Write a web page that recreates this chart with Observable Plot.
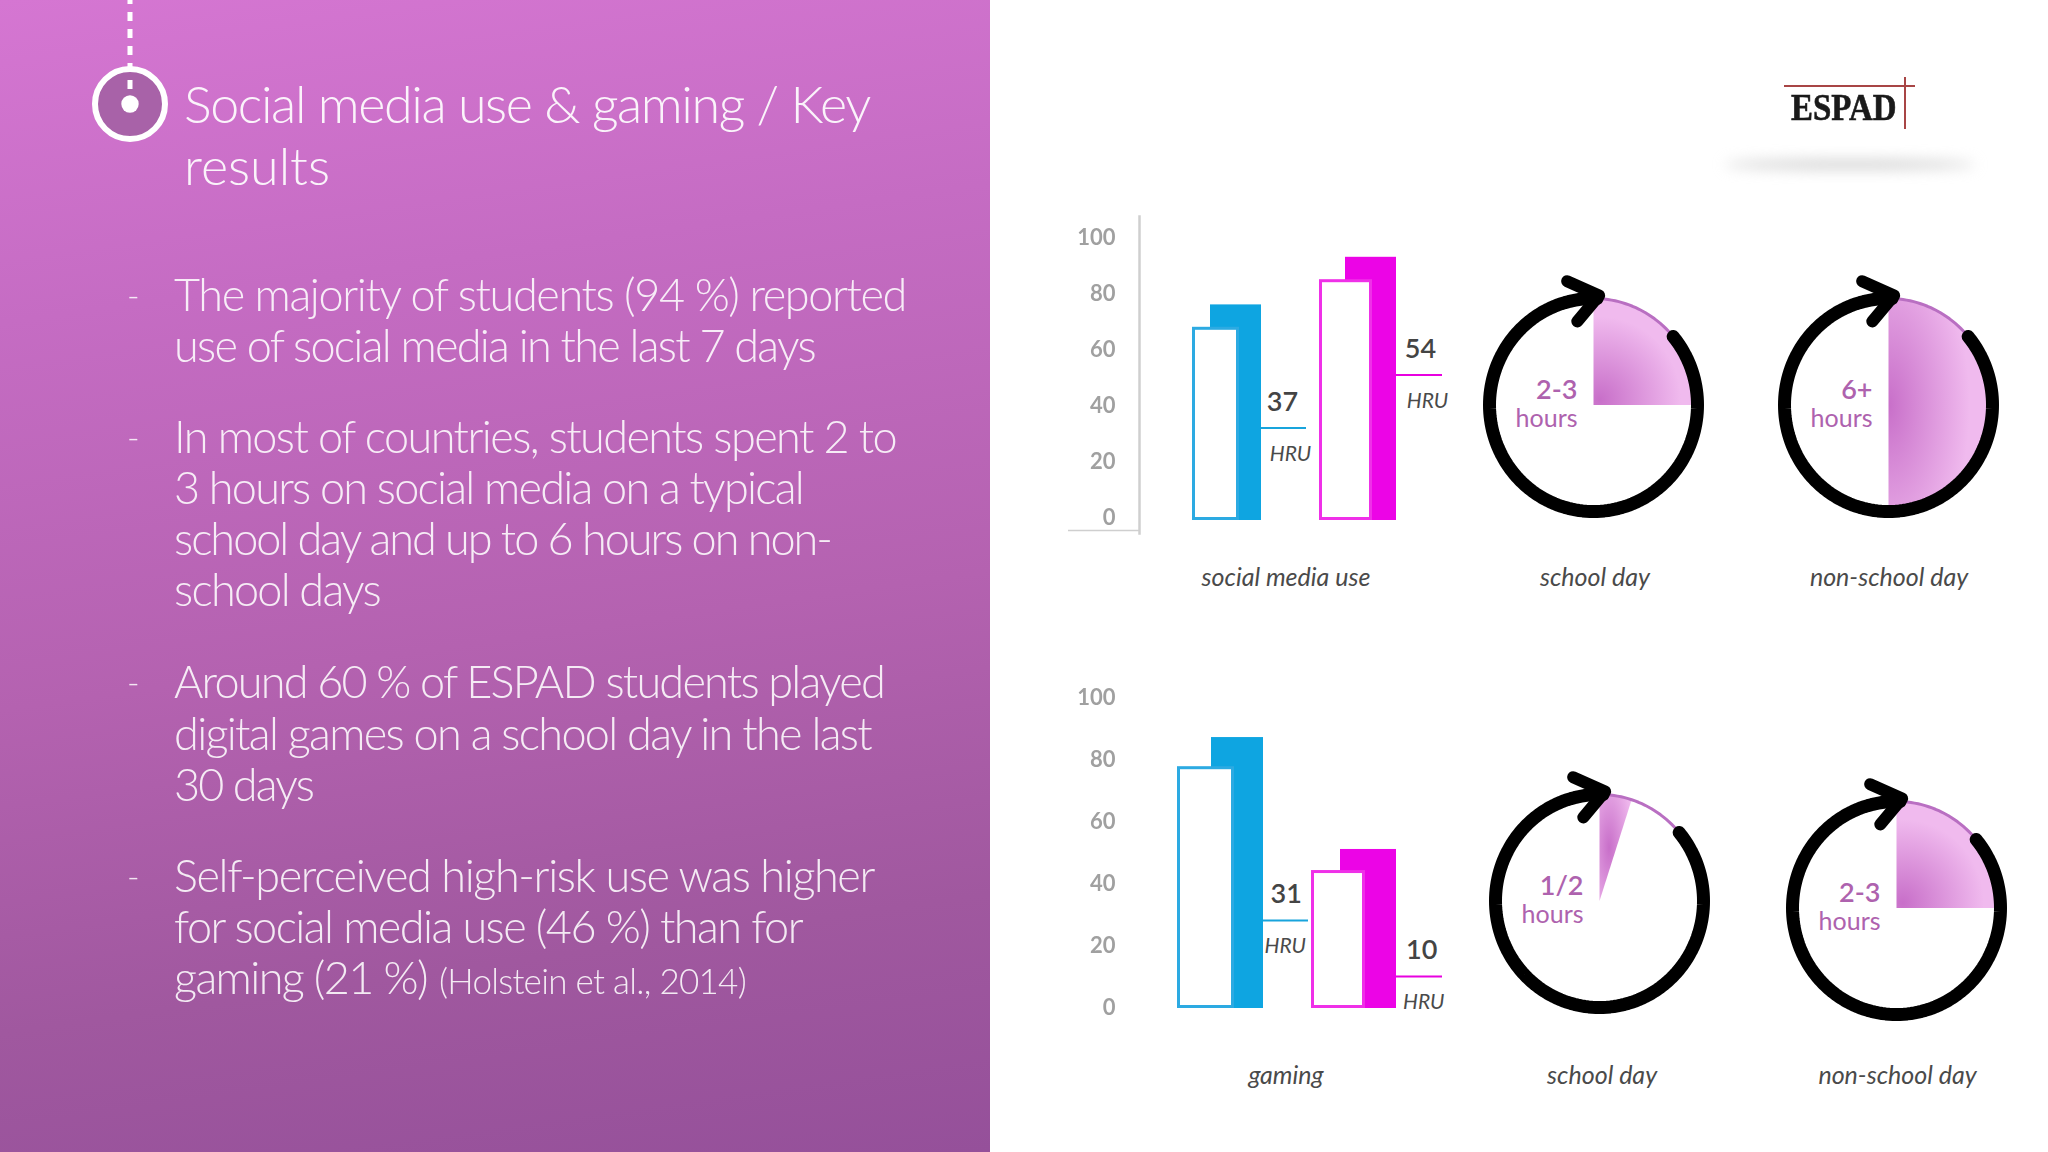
<!DOCTYPE html>
<html>
<head>
<meta charset="utf-8">
<script src="https://cdn.jsdelivr.net/npm/d3@7"></script>
<script src="https://cdn.jsdelivr.net/npm/@observablehq/plot@0.6"></script>
<style>
html,body{margin:0;padding:0;background:#fff}
#page{position:relative;width:2048px;height:1152px;overflow:hidden;background:#fff;font-family:Lato,sans-serif}
#panel{position:absolute;left:0;top:0;width:990px;height:1152px;background:linear-gradient(172deg,#d576d2 0%,#c56cc3 25%,#b462b0 55%,#a0589f 80%,#95509a 100%)}
.ln{position:absolute;white-space:nowrap;color:#fff;font-weight:300;transform:translateY(-50%)}
.title{font-size:52px;left:184px;opacity:.92}
.body{font-size:45px;left:174px;opacity:.88}
.dash{font-size:34px;left:127px;opacity:.85}
.abs{position:absolute}
#page svg[class^="plot"]{position:absolute;background:transparent;overflow:visible}
</style>
</head>
<body>
<div id="page"><div id="panel"></div></div>
<script>
// ---- data ----
const titleLines = ["Social media use & gaming / Key", "results"];
const bulletLines = [
  ["The majority of students (94 %) reported", "use of social media in the last 7 days"],
  ["In most of countries, students spent 2 to", "3 hours on social media on a typical", "school day and up to 6 hours on non-", "school days"],
  ["Around 60 % of ESPAD students played", "digital games on a school day in the last", "30 days"],
  ["Self-perceived high-risk use was higher", "for social media use (46 %) than for", "gaming (21 %)"]
];
const citation = "(Holstein et al., 2014)";
const logoText = "ESPAD";

const barGroups = ["blue group", "magenta group"];
const yTicks = [0, 20, 40, 60, 80, 100];
const socialFront = [69, 86];
const socialBack = [77, 94];
const socialHruLevel = [33, 52];
const socialHruLabel = ["37", "54"];
const gamingFront = [78, 44.5];
const gamingBack = [87.4, 51.3];
const gamingHruLevel = [28.4, 10.3];
const gamingHruLabel = ["31", "10"];
const hruWord = "HRU";
const barChartNames = ["social media use", "gaming"];

const clockNames = ["school day", "non-school day", "school day", "non-school day"];
const clockValues = ["2-3", "6+", "1/2", "2-3"];
const clockUnit = "hours";
const clockSectorDegrees = [90, 180, 18, 90];

// ---- layout and styles ----
const page = document.getElementById("page");
const fillColors = ["#0ea5e1", "#ec04e6"];
const outlineColors = ["#2caae2", "#ef30e8"];
const ruleColors = ["#18a4dc", "#e800e0"];

const lineY = [[293.5, 344.5], [435.5, 486.5, 537.5, 588.5], [680.5, 732.5, 783.5], [874.5, 925.5, 976.5]];
const lineRight = [[906, 815], [896, 803, 831, 380], [884, 871, 313], [874, 802, 427]];
function addLine(text, cls, y, right, extra) {
  const d = document.createElement("div");
  d.className = "ln " + cls;
  d.textContent = text;
  d.style.top = y + "px";
  if (extra) Object.assign(d.style, extra);
  page.appendChild(d);
  if (right) {
    const box = d.getBoundingClientRect();
    d.style.letterSpacing = (right - box.right) / text.length + "px";
  }
  return d;
}
titleLines.forEach((t, i) => addLine(t, "title", [103, 165][i], [870, 330][i]));
bulletLines.forEach((lines, b) => {
  addLine("-", "dash", lineY[b][0]);
  lines.forEach((t, i) => addLine(t, "body", lineY[b][i], lineRight[b][i]));
});
addLine(citation, "body", 979.5, 746, {left: "439px", fontSize: "35px"});

// marker at the top of the panel
page.insertAdjacentHTML("beforeend", `
<svg class="abs" style="left:0;top:0" width="260" height="160">
  <circle cx="130" cy="104" r="35" fill="#a862a8" stroke="#fff" stroke-width="6"/>
  <line x1="130" x2="130" y1="-5" y2="90" stroke="#fff" stroke-width="5" stroke-dasharray="9 8"/>
  <circle cx="130" cy="104" r="8.7" fill="#fff"/>
</svg>
<div class="abs" style="left:1725px;top:160px;width:250px;height:9px;border-radius:50%;background:#cfcfcf;filter:blur(7px)"></div>
<div class="abs" style="left:1784px;top:85px;width:131px;height:2px;background:#a84545"></div>
<div class="abs" style="left:1904px;top:77px;width:2px;height:52px;background:#a84545"></div>
<div class="abs" style="left:1791px;top:86px;font:bold 37px 'Liberation Serif',serif;color:#1a1a1a;-webkit-text-stroke:.6px #1a1a1a;transform:scaleX(.89);transform-origin:left top;white-space:nowrap">${logoText}</div>
`);

function barChart(cfg) {
  const rows = barGroups.map((group, i) => ({
    group, front: cfg.front[i], back: cfg.back[i], level: cfg.level[i], label: cfg.labels[i]
  }));
  const marks = [
    Plot.axisY({ticks: yTicks, tickSize: 0, tickPadding: 24, fontSize: 22, color: "#a0a0a0", dy: cfg.tickDy, label: null, fontWeight: 700}),
  ];
  if (cfg.axisLines) {
    marks.push(Plot.frame({anchor: "left", stroke: "#cfcfcf", strokeWidth: 2.5}));
    marks.push(Plot.ruleY([-3.6], {stroke: "#cfcfcf", strokeWidth: 1.5, insetLeft: -71, insetRight: 320}));
  }
  rows.forEach((row, i) => {
    const g = cfg.geom[i];
    marks.push(
      Plot.barY([row], {x: "group", y: "back", fill: fillColors[i], insetLeft: g.back[0], insetRight: g.back[1]}),
      Plot.barY([row], {x: "group", y: "front", fill: "#fff", stroke: outlineColors[i], strokeWidth: 3,
        insetLeft: g.front[0] + 1.5, insetRight: g.front[1] + 1.5, insetTop: 1.5, insetBottom: 1.5}),
      Plot.tickY([row], {x: "group", y: "level", stroke: ruleColors[i], strokeWidth: 2, insetLeft: g.rule[0], insetRight: g.rule[1]}),
      Plot.text([row], {x: "group", y: "level", text: "label", dx: g.num, dy: -26, fontSize: 27, fontWeight: 600, fill: "#444"}),
      Plot.text([row], {x: "group", y: "level", text: () => hruWord, dx: g.hru, dy: 26, fontSize: 21, fontStyle: "italic", fill: "#4a4a4a"})
    );
  });
  marks.push(Plot.text([cfg.name], {text: d => d, frameAnchor: "bottom", lineAnchor: "middle", dx: -14, dy: cfg.nameDy, fontSize: 25, fontStyle: "italic", fill: "#4a4a4a"}));

  const plot = Plot.plot({
    width: 410, height: cfg.height,
    marginLeft: 89, marginRight: 0, marginTop: cfg.marginTop, marginBottom: cfg.marginBottom,
    style: {background: "transparent", fontFamily: "Lato, sans-serif"},
    x: {type: "band", domain: barGroups, range: cfg.xRange, padding: 0, round: false, axis: null},
    y: {domain: [0, 100], range: cfg.yRange, axis: null},
    marks
  });
  plot.style.left = "1050px";
  plot.style.top = cfg.top + "px";
  d3.select(plot).selectAll('[aria-label="y-axis tick label"]').style("filter", "blur(.7px)");
  page.appendChild(plot);
}

barChart({
  name: barChartNames[0], front: socialFront, back: socialBack, level: socialHruLevel, labels: socialHruLabel,
  top: 200, height: 400, marginTop: 16, marginBottom: 67, xRange: [142, 346], yRange: [320, 40], tickDy: -3,
  axisLines: true, nameDy: 44,
  geom: [
    {front: [0, 55], back: [18, 33], rule: [69, -12], num: 39, hru: 47},
    {front: [25, 24], back: [51, 0], rule: [102, -46], num: 75, hru: 82}
  ]
});
barChart({
  name: barChartNames[1], front: gamingFront, back: gamingBack, level: gamingHruLevel, labels: gamingHruLabel,
  top: 670, height: 430, marginTop: 16, marginBottom: 67, xRange: [127, 346], yRange: [338, 28], tickDy: -1,
  axisLines: false, nameDy: 42,
  geom: [
    {front: [0, 52.5], back: [34, 23.5], rule: [86, -21.5], num: 54, hru: 53},
    {front: [24.5, 31], back: [53.5, 0], rule: [109.5, -46], num: 80, hru: 82}
  ]
});

// clock dial: angles run clockwise from twelve o'clock, radius 1 is the ring
const polar = (deg, r = 1) => ({px: r * Math.sin(deg * Math.PI / 180), py: r * Math.cos(deg * Math.PI / 180)});
const arc = (from, to) => d3.range(from, to + 0.01, 2).map(a => polar(a));
const ringStart = 50, ringEnd = 363;
const clockCenters = [[1593, 405], [1888, 405], [1599, 901], [1896, 908]];
const gradCenters = [["6%", "95%"], ["0%", "50%"], ["30%", "50%"], ["6%", "95%"]];
const nameShift = [[1.5, 0], [0.5, 0], [2.6, 2], [1, -5]];

clockNames.forEach((name, i) => {
  const gid = "sector" + i;
  const sector = [polar(0, 0), ...arc(0, clockSectorDegrees[i]), polar(0, 0)];
  const defs = () => {
    const d = d3.create("svg:defs");
    const g = d.append("radialGradient").attr("id", gid)
      .attr("cx", gradCenters[i][0]).attr("cy", gradCenters[i][1]).attr("r", "78%");
    g.append("stop").attr("offset", "0%").attr("stop-color", "#c86fc9");
    g.append("stop").attr("offset", "100%").attr("stop-color", "#f0baee");
    return d.node();
  };
  const plot = Plot.plot({
    width: 300, height: 342, margin: 0,
    style: {background: "transparent", fontFamily: "Lato, sans-serif"},
    x: {domain: [-1, 1], range: [46, 254], axis: null},
    y: {domain: [-1, 1], range: [256, 43], axis: null},
    marks: [
      defs,
      Plot.line(sector, {x: "px", y: "py", fill: `url(#${gid})`, stroke: "none"}),
      Plot.line(arc(0, ringStart), {x: "px", y: "py", stroke: "#b96fc2", strokeWidth: 3}),
      Plot.line(arc(ringStart, ringEnd), {x: "px", y: "py", stroke: "#000", strokeWidth: 13, strokeLinecap: "round"}),
      Plot.line([polar(-12.3, 1.19), polar(3, 1.03), polar(-11.2, 0.8)], {x: "px", y: "py", stroke: "#000", strokeWidth: 12, strokeLinecap: "round", strokeLinejoin: "round"}),
      Plot.text([clockValues[i]], {text: d => d, frameAnchor: "middle", textAnchor: "end", dx: -16, dy: -36, fontSize: 27, fontWeight: 600, fill: "#ae62ae"}),
      Plot.text([clockUnit], {text: d => d, frameAnchor: "middle", textAnchor: "end", dx: -16, dy: -8, fontSize: 25, fill: "#ae62ae"}),
      Plot.text([name], {text: d => d, frameAnchor: "bottom", lineAnchor: "middle", dx: nameShift[i][0], dy: -20 + nameShift[i][1], fontSize: 25, fontStyle: "italic", fill: "#4a4a4a"})
    ]
  });
  plot.style.left = (clockCenters[i][0] - 150) + "px";
  plot.style.top = (clockCenters[i][1] - 150) + "px";
  page.appendChild(plot);
});
</script>
</body>
</html>
